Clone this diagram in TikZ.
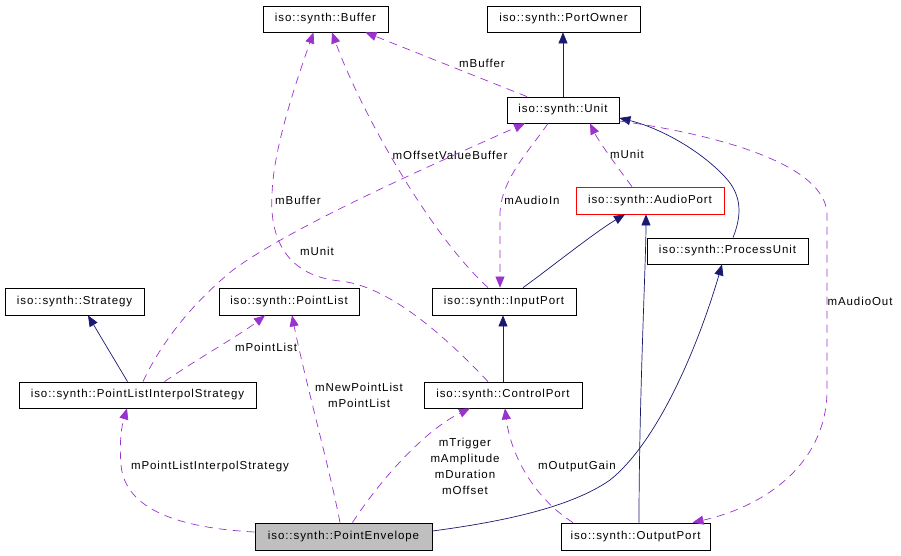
\documentclass[tikz,border=0pt]{standalone}
\usepackage{fontspec}
\setmainfont{Liberation Sans}[LetterSpace=8]
\usetikzlibrary{arrows.meta}
\definecolor{purp}{HTML}{9A32CD}
\definecolor{navyc}{HTML}{191970}
\definecolor{pegray}{HTML}{BFBFBF}
\begin{document}
\begin{tikzpicture}[x=1pt,y=-1pt,
  cls/.style={draw=black, line width=0.8pt, inner sep=0pt, minimum height=26pt, font=\fontsize{11.5}{13}\selectfont},
  lbl/.style={inner sep=0pt, font=\fontsize{11.5}{16}\selectfont, align=center},
  inh/.style={draw=navyc, line width=0.7pt, -{Triangle[length=11pt,width=9pt]}},
  dep/.style={draw=purp, line width=0.7pt, dash pattern=on 8pt off 6pt, -{Triangle[length=11pt,width=9pt]}},
]
\useasboundingbox (0,0) rectangle (901,555);

% classes
\node[cls, minimum width=125pt] (buf) at (325.5,19) {iso::synth::Buffer};
\node[cls, minimum width=153pt] (po) at (563.5,19) {iso::synth::PortOwner};
\node[cls, minimum width=112pt] (unit) at (563,110) {iso::synth::Unit};
\node[cls, minimum width=148pt, minimum height=27pt, draw=red] (audio) at (650,200.5) {iso::synth::AudioPort};
\node[cls, minimum width=161pt] (pu) at (727.5,251) {iso::synth::ProcessUnit};
\node[cls, minimum width=139pt, minimum height=27pt] (strat) at (74.5,301.5) {iso::synth::Strategy};
\node[cls, minimum width=140pt, minimum height=27pt] (plist) at (289,301.5) {iso::synth::PointList};
\node[cls, minimum width=144pt, minimum height=27pt] (inport) at (504,301.5) {iso::synth::InputPort};
\node[cls, minimum width=237pt] (plis) at (137.5,395) {iso::synth::PointListInterpolStrategy};
\node[cls, minimum width=158pt] (cport) at (503,395) {iso::synth::ControlPort};
\node[cls, minimum width=177pt, minimum height=27pt, fill=pegray] (pe) at (343.5,536.5) {iso::synth::PointEnvelope};
\node[cls, minimum width=149pt, minimum height=27pt] (op) at (635.5,536.5) {iso::synth::OutputPort};

% inheritance (solid navy)
\draw[inh] (unit.north) -- (unit.north |- po.south);
\draw[inh] ([xshift=5.5pt]pu.north) .. controls (742,215) and (742,195) .. (725,177)
  .. controls (700,150) and (660,128) .. ([yshift=-8pt]unit.east);
\draw[inh] ([xshift=19pt]inport.north) .. controls (545,272) and (595,232) .. ([xshift=-25pt]audio.south);
\draw[inh] ([xshift=3.5pt]op.north) .. controls (639,400) and (646,260) .. ([xshift=-4pt]audio.south);
\draw[inh] ([yshift=5.5pt]pe.east) .. controls (500,522) and (570,508) .. (610,480)
  .. controls (660,440) and (700,340) .. ([xshift=-5.5pt]pu.south);
\draw[inh] (cport.north) -- (cport.north |- inport.south);
\draw[inh] ([xshift=-10pt]plis.north) -- ([xshift=13.5pt]strat.south);

% usage (dashed purple)
\draw[dep] ([xshift=-36pt]unit.north) -- ([xshift=40pt]buf.south);
\node[lbl] (l1) at (482,63) {mBuffer};

\draw[dep] ([xshift=-16pt]inport.north) .. controls (430,235) and (360,110) .. ([xshift=6.5pt]buf.south);
\node[lbl] (l2) at (450,155) {mOffsetValueBuffer};

\draw[dep] ([xshift=-15pt]cport.north) .. controls (430,320) and (380,285) .. (340,281)
  .. controls (280,275) and (270,230) .. (272,195)
  .. controls (273,150) and (295,85) .. ([xshift=-12pt]buf.south);
\node[lbl] (l3) at (298,200) {mBuffer};

\draw[dep] ([xshift=-15pt]unit.south) .. controls (530,150) and (500,180) .. (500,215) -- ([xshift=-4pt]inport.north);
\node[lbl] (l4) at (532,200) {mAudioIn};

\draw[dep] ([xshift=-18pt]audio.north) .. controls (612,160) and (598,140) .. ([xshift=27pt]unit.south);
\node[lbl] (l5) at (627,154) {mUnit};

\draw[dep] ([xshift=5.5pt]plis.north) .. controls (160,345) and (190,305) .. (233,270)
  .. controls (290,228) and (420,170) .. ([xshift=-38pt]unit.south);
\node[lbl] (l6) at (317,251) {mUnit};

\draw[dep] ([yshift=-11pt]unit.east) .. controls (720,135) and (827,165) .. (827,215)
  -- (827,390) .. controls (827,460) and (770,505) .. ([xshift=57pt]op.north);
\node[lbl] (l7) at (860,301) {mAudioOut};

\draw[dep] ([xshift=27pt]plis.north) .. controls (200,357) and (240,335) .. ([xshift=-24pt]plist.south);
\node[lbl] (l8) at (266,347) {mPointList};

\draw[dep] ([xshift=-3.5pt]pe.north) .. controls (330,470) and (305,380) .. ([xshift=3pt]plist.south);
\node[lbl] (l9) at (359,395) {mNewPointList\\mPointList};

\draw[dep] ([yshift=4.5pt]pe.west) .. controls (180,528) and (125,510) .. (121,465)
  .. controls (119,440) and (122,425) .. ([xshift=-10.5pt]plis.south);
\node[lbl] (l10) at (210,467) {mPointListInterpolStrategy};

\draw[dep] ([xshift=9pt]pe.north) .. controls (380,480) and (425,430) .. ([xshift=-33pt]cport.south);
\node[lbl] (l11) at (465,466.5) {mTrigger\\mAmplitude\\mDuration\\mOffset};

\draw[dep] ([xshift=-62.5pt]op.north) .. controls (530,495) and (510,450) .. ([xshift=2pt]cport.south);
\node[lbl] (l12) at (577,467) {mOutputGain};
\end{tikzpicture}
\end{document}
